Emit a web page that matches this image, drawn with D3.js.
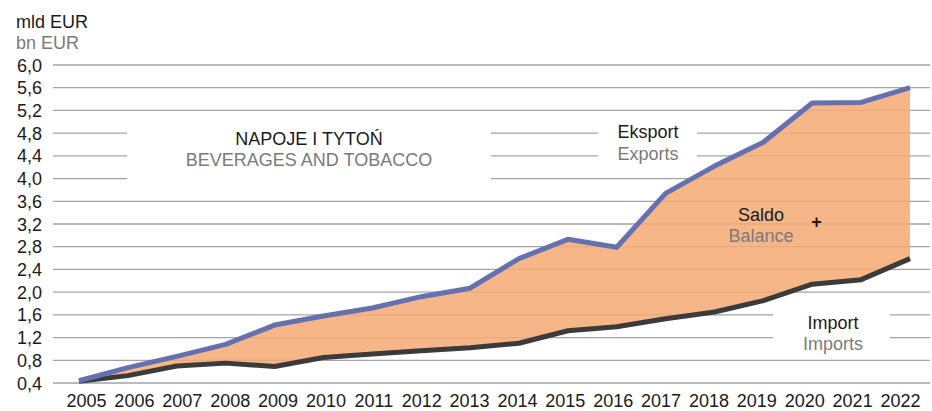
<!DOCTYPE html>
<html>
<head>
<meta charset="utf-8">
<script src="https://cdn.jsdelivr.net/npm/d3@7/dist/d3.min.js"></script>
<style>
  html, body { margin: 0; padding: 0; background: #fff; }
  svg { display: block; font-family: "Liberation Sans", Arial, sans-serif; }
</style>
</head>
<body>
<svg id="chart" width="932" height="411"></svg>
<script>
// Trade in beverages and tobacco, bn EUR
const years = ["2005","2006","2007","2008","2009","2010","2011","2012","2013",
               "2014","2015","2016","2017","2018","2019","2020","2021","2022"];
const exportsBn = [0.44, 0.67, 0.87, 1.08, 1.42, 1.58, 1.72, 1.92, 2.07,
                   2.59, 2.93, 2.79, 3.74, 4.22, 4.64, 5.33, 5.34, 5.60];
const importsBn = [0.43, 0.53, 0.70, 0.75, 0.69, 0.85, 0.91, 0.97, 1.02,
                   1.10, 1.32, 1.39, 1.53, 1.65, 1.85, 2.14, 2.22, 2.59];
const yTicks = [0.4, 0.8, 1.2, 1.6, 2.0, 2.4, 2.8, 3.2, 3.6, 4.0, 4.4, 4.8, 5.2, 5.6, 6.0];

const svg = d3.select("#chart");
const fmt = v => v.toFixed(1).replace(".", ",");

const y = d3.scaleLinear().domain([0.4, 6.0]).range([383, 65]);
const x = d3.scalePoint().domain(years).range([79, 910]);
const xLabels = d3.scalePoint().domain(years).range([86, 900]);

// horizontal gridlines
const gridLeft = 53, gridRight = 930;
svg.append("g").selectAll("line").data(yTicks).join("line")
  .attr("x1", gridLeft).attr("x2", gridRight)
  .attr("y1", d => y(d)).attr("y2", d => y(d))
  .attr("stroke", "#a3a3a3").attr("stroke-width", 1.3);

// y tick labels
svg.append("g").selectAll("text").data(yTicks).join("text")
  .attr("x", 42).attr("y", d => y(d) + 6.5)
  .attr("text-anchor", "end")
  .attr("font-size", 18).attr("fill", "#1a1a1a")
  .text(fmt);

// white panels behind the annotation texts
const panels = [
  { x0: 127, x1: 491, v0: 3.8, v1: 5.0 },
  { x0: 598, x1: 697, v0: 4.2, v1: 5.0 },
  { x0: 773, x1: 890, v0: 1.0, v1: 1.8 }
];
svg.append("g").selectAll("rect").data(panels).join("rect")
  .attr("x", d => d.x0).attr("width", d => d.x1 - d.x0)
  .attr("y", d => y(d.v1)).attr("height", d => y(d.v0) - y(d.v1))
  .attr("fill", "#fff");

// balance band between exports and imports
const rows = years.map((yr, i) => ({ yr, ex: exportsBn[i], im: importsBn[i] }));
svg.append("path").datum(rows)
  .attr("d", d3.area().x(d => x(d.yr)).y0(d => y(d.im)).y1(d => y(d.ex)))
  .attr("fill", "rgb(245,170,116)").attr("fill-opacity", 0.86);

// import and export lines
const line = key => d3.line().x(d => x(d.yr)).y(d => y(d[key]));
svg.append("path").datum(rows).attr("d", line("im"))
  .attr("fill", "none").attr("stroke", "#3b3b3b").attr("stroke-width", 5)
  .attr("stroke-linejoin", "round").attr("stroke-linecap", "butt");
svg.append("path").datum(rows).attr("d", line("ex"))
  .attr("fill", "none").attr("stroke", "#6470b0").attr("stroke-width", 5)
  .attr("stroke-linejoin", "round").attr("stroke-linecap", "butt");

// x axis labels
const xAxis = d3.axisBottom(xLabels).tickSize(0).tickPadding(0);
const gx = svg.append("g").attr("transform", "translate(0,393)").call(xAxis);
gx.select(".domain").remove();
gx.selectAll("text")
  .attr("font-size", 18).attr("fill", "#1a1a1a")
  .attr("font-family", "'Liberation Sans', Arial, sans-serif")
  .attr("dy", 0).attr("y", 13.5);

// texts
const labels = [
  { t: "mld EUR", x: 16, y: 28, c: "#1a1a1a", a: "start" },
  { t: "bn EUR", x: 16, y: 49, c: "#7a7a7a", a: "start" },
  { t: "NAPOJE I TYTOŃ", x: 309, y: 145, c: "#1a1a1a", a: "middle" },
  { t: "BEVERAGES AND TOBACCO", x: 309, y: 166, c: "#7a7a7a", a: "middle" },
  { t: "Eksport", x: 648, y: 138, c: "#1a1a1a", a: "middle" },
  { t: "Exports", x: 648, y: 160, c: "#7a7a7a", a: "middle" },
  { t: "Saldo", x: 761, y: 221, c: "#1a1a1a", a: "middle" },
  { t: "Balance", x: 761, y: 242, c: "#7a7a7a", a: "middle" },
  { t: "Import", x: 833, y: 329, c: "#1a1a1a", a: "middle" },
  { t: "Imports", x: 833, y: 350, c: "#7a7a7a", a: "middle" }
];
svg.append("g").selectAll("text").data(labels).join("text")
  .attr("x", d => d.x).attr("y", d => d.y)
  .attr("text-anchor", d => d.a).attr("fill", d => d.c)
  .attr("font-size", 18).text(d => d.t);

svg.append("text").attr("x", 816.5).attr("y", 228)
  .attr("text-anchor", "middle").attr("font-size", 18).attr("font-weight", "bold")
  .attr("fill", "#1a1a1a").text("+");
</script>
</body>
</html>
